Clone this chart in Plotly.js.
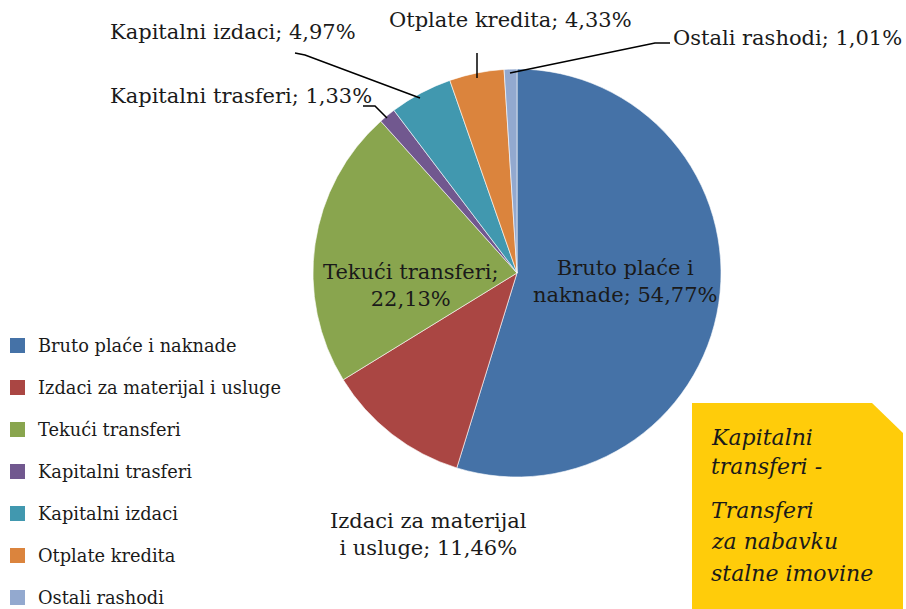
<!DOCTYPE html>
<html>
<head>
<meta charset="utf-8">
<script src="https://cdn.plot.ly/plotly-3.0.1.min.js"></script>
<style>html,body{margin:0;padding:0;background:#fff;}#chart{width:906px;height:609px;}</style>
</head>
<body>
<div id="chart"></div>
<script>
// ---- data ----
const labels = ['Bruto plaće i naknade', 'Izdaci za materijal i usluge', 'Tekući transferi', 'Kapitalni trasferi', 'Kapitalni izdaci', 'Otplate kredita', 'Ostali rashodi'];
const legendLabels = ['Bruto plaće i naknade', 'Izdaci za materijal i usluge', 'Tekući transferi', 'Kapitalni trasferi', 'Kapitalni izdaci', 'Otplate kredita', 'Ostali rashodi'];
const values = [54.77, 11.46, 22.13, 1.33, 4.97, 4.33, 1.01];
const colors = ['#4572A7', '#AA4643', '#89A54E', '#71588F', '#4198AF', '#DB843D', '#93A9CF'];
const noteLines = [['Kapitalni', 'transferi -'], ['Transferi', 'za nabavku', 'stalne imovine']];

// ---- layout helpers (pixel -> paper) ----
const W = 906, H = 609;
const px = x => x / W;
const py = y => 1 - y / H;
const FONT = 'DejaVu Serif, Liberation Serif, serif';
const TXT = '#1a1a1a';

const cx = 517, cy = 273, R = 204;

const fmt = v => v.toFixed(2).replace('.', ',') + '%';

// label placement per slice
const labelPos = [
  {x: 625, y: 281, br: 3},
  {x: 428, y: 534, br: 3},
  {x: 411, y: 285, br: 'semi'},
  {x: 241, y: 96, br: null},
  {x: 233, y: 32, br: null},
  {x: 510, y: 20, br: null},
  {x: 787, y: 38, br: null}
];

function labelText(i) {
  const p = labelPos[i];
  const full = labels[i] + '; ' + fmt(values[i]);
  if (p.br === null) return full;
  if (p.br === 'semi') return labels[i] + ';<br>' + fmt(values[i]);
  const words = full.split(' ');
  return words.slice(0, p.br).join(' ') + '<br>' + words.slice(p.br).join(' ');
}

const annotations = [];
labels.forEach((l, i) => {
  annotations.push({
    x: px(labelPos[i].x), y: py(labelPos[i].y), xref: 'paper', yref: 'paper',
    xanchor: 'center', yanchor: 'middle', showarrow: false, align: 'center',
    text: labelText(i), font: {family: FONT, size: 21, color: TXT}
  });
});

// legend (manual, for Excel-like spacing)
const shapes = [];
legendLabels.forEach((l, i) => {
  const yc = 345.5 + i * 42;
  shapes.push({type: 'rect', xref: 'paper', yref: 'paper',
    x0: px(10), x1: px(25), y0: py(yc - 7.5), y1: py(yc + 7.5),
    fillcolor: colors[i], line: {width: 0}});
  annotations.push({x: px(37), y: py(yc), xref: 'paper', yref: 'paper',
    xanchor: 'left', yanchor: 'middle', showarrow: false, text: l, borderpad: 0,
    font: {family: FONT, size: 17.8, color: TXT}});
});

// leader lines
const leaders = [
  [[295, 53], [305, 55], [420, 98]],
  [[363, 106], [375, 106], [387, 118]],
  [[477, 53], [477, 78]],
  [[670, 43], [655, 43], [510, 73]]
];
leaders.forEach(pts => {
  const d = pts.map((p, k) => (k ? 'L' : 'M') + px(p[0]) + ',' + py(p[1])).join(' ');
  shapes.push({type: 'path', xref: 'paper', yref: 'paper', path: d,
    line: {color: '#000', width: 1.5}});
});

// yellow note box
const boxPts = [[692, 403], [872, 403], [903, 433], [903, 612], [692, 612]];
shapes.push({type: 'path', xref: 'paper', yref: 'paper', layer: 'above',
  path: boxPts.map((p, k) => (k ? 'L' : 'M') + px(p[0]) + ',' + py(p[1])).join(' ') + ' Z',
  fillcolor: '#FFCC0A', line: {width: 0}});
const noteY = [[437, 467], [510, 541, 573]];
noteLines.forEach((grp, g) => grp.forEach((t, k) => {
  annotations.push({x: px(709), y: py(noteY[g][k]), xref: 'paper', yref: 'paper',
    xanchor: 'left', yanchor: 'middle', showarrow: false,
    text: '<i>' + t + '</i>', font: {family: FONT, size: 22, color: TXT}});
}));

const trace = {
  type: 'pie', labels: labels, values: values, sort: false, direction: 'clockwise',
  rotation: 0, textinfo: 'none', hoverinfo: 'label+percent', showlegend: false,
  marker: {colors: colors, line: {color: '#ffffff', width: 0.6}},
  domain: {x: [px(cx - R), px(cx + R)], y: [py(cy + R), py(cy - R)]}
};

const layout = {
  width: W, height: H, margin: {l: 0, r: 0, t: 0, b: 0},
  paper_bgcolor: '#ffffff', showlegend: false,
  annotations: annotations, shapes: shapes, separators: ',.'
};

Plotly.newPlot('chart', [trace], layout, {displayModeBar: false, staticPlot: true});
</script>
</body>
</html>
